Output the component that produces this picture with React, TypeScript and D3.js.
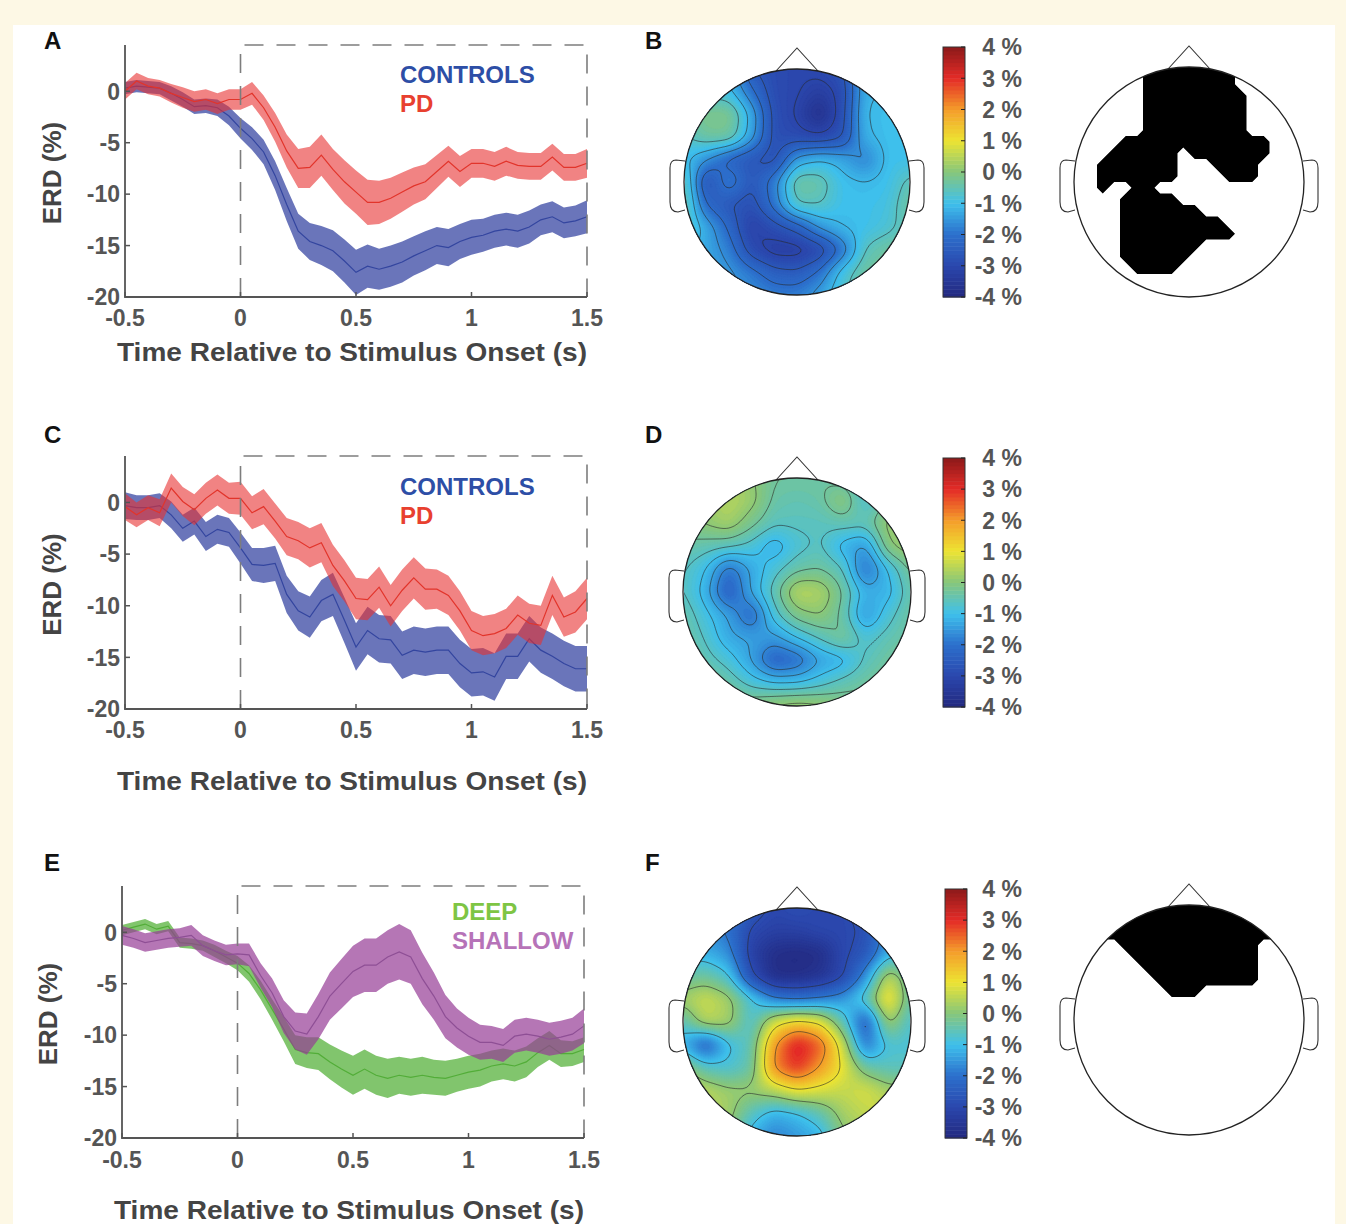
import { useMemo } from 'react';
import * as d3 from 'd3';

const FONT = '"Liberation Sans", Arial, Helvetica, sans-serif';

// time base of every ERD trace (s)
const times = [-0.5, -0.45, -0.4, -0.35, -0.3, -0.25, -0.2, -0.15, -0.1, -0.05, 0, 0.05, 0.1, 0.15, 0.2, 0.25, 0.3, 0.35, 0.4, 0.45, 0.5, 0.55, 0.6, 0.65, 0.7, 0.75, 0.8, 0.85, 0.9, 0.95, 1, 1.05, 1.1, 1.15, 1.2, 1.25, 1.3, 1.35, 1.4, 1.45, 1.5];
const xTicks = [-0.5, 0, 0.5, 1, 1.5];
const yTicks = [0, -5, -10, -15, -20];

// panel A
const ctrlA = [0.3, 0.5, 0.4, 0.3, -0.2, -0.8, -1.5, -1.4, -1.6, -2.4, -3.6, -4.6, -5.9, -8.2, -11.0, -13.6, -14.6, -15.0, -15.5, -16.5, -17.6, -17.0, -17.3, -17.0, -16.6, -16.0, -15.5, -15.0, -15.2, -14.6, -14.2, -14.0, -13.6, -13.4, -13.6, -13.2, -12.5, -12.2, -12.8, -12.6, -12.2];
const ctrlAErr = [0.6, 0.6, 0.6, 0.6, 0.7, 0.7, 0.7, 0.7, 0.8, 0.9, 1.0, 1.1, 1.2, 1.4, 1.6, 1.7, 1.8, 1.9, 2.0, 2.1, 2.2, 2.1, 2.0, 2.0, 2.0, 1.9, 1.9, 1.8, 1.8, 1.7, 1.7, 1.6, 1.6, 1.6, 1.6, 1.6, 1.5, 1.5, 1.5, 1.5, 1.6];
const pdA = [0, 1.0, 0.5, 0.3, -0.2, -0.6, -1.0, -0.8, -1.2, -0.8, -0.8, -0.2, -1.6, -3.5, -5.8, -7.5, -7.4, -6.2, -7.6, -8.8, -9.8, -10.8, -10.8, -10.4, -9.8, -9.2, -8.8, -7.8, -6.8, -7.8, -7.0, -7.0, -7.3, -6.8, -7.2, -7.3, -7.3, -6.4, -7.4, -7.4, -7.0];
const pdAErr = [0.8, 0.8, 0.8, 0.8, 0.9, 1.0, 1.0, 1.0, 1.0, 1.0, 1.0, 1.1, 1.2, 1.4, 1.6, 1.9, 2.0, 2.0, 2.0, 2.1, 2.1, 2.2, 2.1, 2.0, 1.9, 1.8, 1.7, 1.6, 1.5, 1.5, 1.4, 1.4, 1.4, 1.4, 1.3, 1.3, 1.3, 1.3, 1.3, 1.3, 1.4];

// panel C
const ctrlC = [-0.3, -0.5, -0.5, -0.3, -1.2, -2.5, -1.8, -3.3, -2.6, -2.9, -4.4, -6.0, -6.1, -5.9, -8.9, -10.5, -11.1, -9.5, -8.9, -11.4, -14.0, -12.4, -13.2, -13.3, -14.8, -14.3, -14.5, -14.3, -14.3, -15.6, -16.5, -16.4, -16.9, -14.9, -14.9, -13.2, -14.3, -14.9, -15.6, -16.1, -16.1];
const ctrlCErr = [1.3, 1.2, 1.2, 1.2, 1.3, 1.3, 1.3, 1.4, 1.4, 1.4, 1.5, 1.6, 1.7, 1.7, 1.8, 1.9, 2.0, 2.0, 2.1, 2.2, 2.3, 2.3, 2.3, 2.3, 2.3, 2.3, 2.3, 2.3, 2.3, 2.3, 2.3, 2.3, 2.3, 2.2, 2.2, 2.2, 2.2, 2.2, 2.2, 2.2, 2.2];
const pdC = [-0.4, -1.2, -0.5, -1.0, 1.4, 0.1, -0.7, 0.4, 1.2, 0.4, 0.4, -1.0, -0.4, -1.8, -3.3, -3.7, -4.4, -3.9, -6.1, -7.6, -9.3, -9.4, -8.2, -10.0, -8.5, -7.3, -8.4, -8.4, -9.0, -10.5, -12.4, -12.9, -12.7, -12.2, -10.9, -11.7, -11.9, -9.0, -11.1, -10.6, -9.3];
const pdCErr = [1.3, 1.2, 1.2, 1.3, 1.4, 1.4, 1.5, 1.5, 1.5, 1.5, 1.6, 1.6, 1.7, 1.7, 1.8, 1.8, 1.9, 1.9, 2.0, 2.0, 2.0, 2.0, 2.0, 2.0, 2.0, 2.0, 2.0, 1.9, 1.9, 1.9, 1.9, 1.9, 1.9, 1.9, 1.9, 1.9, 1.9, 1.9, 1.9, 2.0, 2.0];

// panel E
const deepE = [0.2, 0.5, 0.8, 0.3, 0.6, -1.0, -1.1, -1.3, -1.8, -2.4, -3.0, -4.0, -5.6, -7.5, -9.4, -11.4, -11.7, -11.8, -12.6, -13.3, -13.9, -13.3, -13.9, -14.2, -13.9, -14.1, -13.9, -14.1, -14.2, -13.9, -13.6, -13.4, -13.0, -12.8, -13.0, -12.6, -11.7, -11.0, -11.8, -11.8, -11.4];
const deepEErr = [0.5, 0.5, 0.5, 0.5, 0.5, 0.5, 0.5, 0.5, 0.6, 0.6, 0.7, 0.8, 0.9, 1.0, 1.2, 1.4, 1.5, 1.6, 1.7, 1.8, 1.9, 1.9, 1.9, 1.9, 1.8, 1.8, 1.8, 1.7, 1.7, 1.6, 1.6, 1.6, 1.5, 1.5, 1.5, 1.5, 1.4, 1.4, 1.3, 1.2, 1.2];
const shallowE = [-0.3, -0.6, -1.0, -0.8, -0.6, -0.5, -0.3, -1.3, -1.8, -2.2, -2.1, -2.2, -4.2, -5.9, -8.2, -9.6, -9.9, -8.2, -6.2, -5.0, -3.8, -3.2, -3.2, -2.4, -1.9, -2.4, -4.5, -6.2, -8.2, -9.3, -10.1, -10.7, -10.7, -11.0, -10.1, -9.9, -10.1, -10.4, -10.2, -9.9, -9.1];
const shallowEErr = [0.9, 0.9, 0.9, 0.9, 0.9, 0.9, 1.0, 1.0, 1.0, 1.0, 1.0, 1.1, 1.2, 1.4, 1.6, 1.8, 2.0, 2.2, 2.3, 2.4, 2.5, 2.6, 2.6, 2.6, 2.7, 2.6, 2.5, 2.3, 2.1, 1.9, 1.8, 1.7, 1.6, 1.6, 1.6, 1.6, 1.6, 1.6, 1.6, 1.6, 1.7];

// colour bar
const cbarValues = [4, 3, 2, 1, 0, -1, -2, -3, -4];
const cbarLabels = ['4 %', '3 %', '2 %', '1 %', '0 %', '-1 %', '-2 %', '-3 %', '-4 %'];
const jetDomain = [-4, -3, -2, -1, 0, 1, 2, 3, 4];
const jetColors = ['#22287f', '#2b47ad', '#2c6fcc', '#3ec0ec', '#86c67c', '#ece433', '#f49d2a', '#e42b27', '#8c1a1a'];

// scalp maps (%), rows front->back, columns left->right, over the head's bounding square
const topoB = [
  [-1.2, -1.2, -1.2, -2.6, -2.9, -3.0, -2.9, -2.7, -1.2, -1.1, -1.1],
  [-1.0, -0.9, -1.0, -2.0, -2.9, -3.0, -3.3, -2.9, -1.2, -1.1, -1.1],
  [-0.5, -0.1, -0.1, -1.3, -2.8, -3.1, -3.8, -2.8, -1.1, -1.0, -1.0],
  [-0.7, -0.3, -0.3, -1.4, -2.8, -2.9, -3.0, -2.7, -1.2, -1.0, -1.0],
  [-1.0, -1.6, -2.3, -2.6, -2.8, -1.4, -1.1, -1.3, -1.8, -1.0, -1.0],
  [-0.4, -2.8, -1.7, -2.6, -1.8, -0.3, -0.4, -1.0, -1.1, -1.0, -0.5],
  [-0.3, -2.2, -2.6, -2.8, -1.9, -0.6, -0.6, -1.0, -1.0, -0.9, -0.3],
  [-0.5, -1.3, -2.2, -3.2, -2.8, -2.4, -1.5, -1.1, -1.0, -0.8, -0.4],
  [-1.0, -1.3, -1.8, -2.9, -3.3, -3.3, -3.0, -2.0, -0.6, -0.3, -0.3],
  [-1.2, -1.3, -1.5, -1.9, -2.4, -2.5, -2.0, -0.9, -0.3, -0.3, -0.3],
  [-1.3, -1.3, -1.5, -1.6, -1.8, -1.8, -1.4, -0.7, -0.3, -0.3, -0.3],
];
const topoD = [
  [0, 0, 0.3, 0.1, -0.3, -0.3, -0.3, -0.5, -0.8, -0.3, 0],
  [0, 0.2, 0.5, 0.2, -0.4, -0.5, -0.4, 0.1, -0.8, -0.3, 0.2],
  [-0.1, 0.1, 0.3, -0.2, -0.6, -0.6, -0.6, -0.5, -0.5, 0.2, 0.4],
  [-0.4, -0.5, -0.6, -0.8, -1.3, -0.8, -0.6, -1.2, -1.5, 0, 0.3],
  [-0.6, -1.0, -2.0, -1.3, -0.8, -0.4, -0.3, -0.6, -2.0, -1.0, -0.2],
  [-0.6, -1.2, -2.4, -1.3, -0.5, 0.5, 0.4, -0.3, -1.2, -1.2, -0.4],
  [-0.4, -0.9, -1.4, -2.2, -0.8, -0.1, 0.1, -0.4, -1.5, -0.8, -0.3],
  [-0.3, -0.7, -1.3, -1.4, -1.5, -1.0, -0.6, -0.2, -0.8, -0.5, -0.3],
  [-0.2, -0.5, -0.8, -1.4, -2.3, -2.1, -1.4, -1.2, -0.6, -0.3, -0.2],
  [-0.1, -0.2, -0.4, -0.8, -1.0, -1.0, -0.8, -0.5, -0.3, -0.2, -0.2],
  [0, 0, 0, 0, 0.2, 0.3, 0.2, 0, -0.2, -0.2, -0.2],
];
const topoF = [
  [-1.5, -1.5, -1.8, -2.5, -3.0, -2.8, -3.0, -3.0, -2.5, -1.5, -1.5],
  [-1.5, -1.6, -2.0, -3.0, -3.2, -3.2, -3.0, -3.0, -2.8, -1.5, -1.2],
  [-1.2, -1.2, -1.6, -3.2, -3.8, -3.9, -3.8, -3.0, -2.6, -1.2, -1.0],
  [-0.4, -0.3, -0.8, -2.8, -3.8, -3.8, -3.6, -3.0, -1.6, 0.6, -0.5],
  [0.3, 0.7, 0.3, -0.8, -1.8, -2.0, -1.8, -1.5, -0.6, 1.3, -0.5],
  [-0.6, 0.5, 0.3, -0.8, 0.8, 1.3, 1.0, -0.5, -2.5, 0.3, -0.8],
  [-1.2, -2.5, -1.0, -0.5, 2.0, 3.3, 2.6, 0.7, -2.0, -0.8, -0.8],
  [0.2, -0.6, -0.8, -0.4, 2.2, 3.0, 2.0, 1.0, -0.3, -0.6, -0.6],
  [0.8, 0.5, 0.2, 0.2, 0.5, 1.0, 0.8, 0.6, 0.8, 0.3, 0.3],
  [0.5, 0.5, 0.3, -0.6, -1.2, -1.0, -0.5, 0.3, 0.6, 0.8, 0.6],
  [0.3, 0.3, 0, -1.2, -1.8, -1.5, -1.2, 0, 0.3, 0.5, 0.5],
];

// significance masks (# = significant), 20 x 20 over the head's bounding square
const maskB = [
  '......########......',
  '......########......',
  '......#########.....',
  '......#########.....',
  '......#########.....',
  '......#########.....',
  '....#############...',
  '...######.#######...',
  '..#######...####....',
  '..#######....###....',
  '..#..##.............',
  '....#####...........',
  '....#######.........',
  '....#########.......',
  '....##########......',
  '....#######.........',
  '....######..........',
  '.....####...........',
  '....................',
  '....................',
];
const maskF = [
  '####################',
  '####################',
  '####################',
  '....############....',
  '.....###########....',
  '......##########....',
  '.......#########....',
  '........###.........',
  '....................',
  '....................',
  '....................',
  '....................',
  '....................',
  '....................',
  '....................',
  '....................',
  '....................',
  '....................',
  '....................',
  '....................',
];

const jet = d3.scaleLinear<string>().domain(jetDomain).range(jetColors).clamp(true);

interface Trace { mean: number[]; err: number[]; fill: string; opacity: number; line: string }
interface LegendItem { text: string; color: string }

interface ErdProps {
  letter: string; letterY: number;
  x0: number; x1: number; yTop: number; yBot: number;
  tickY: number; labelY: number; ylabX: number;
  traces: Trace[];
  legend: LegendItem[]; legendX: number; legendY: number;
}

function ErdPanel({ letter, letterY, x0, x1, yTop, yBot, tickY, labelY, ylabX, traces, legend, legendX, legendY }: ErdProps) {
  const x = d3.scaleLinear().domain([-0.5, 1.5]).range([x0, x1]);
  const y = d3.scaleLinear().domain([-20, 4.5]).range([yBot, yTop]);
  const ink = '#555';
  return (
    <g>
      <text x={44} y={letterY} fontFamily={FONT} fontWeight="bold" fontSize={24} fill="#111">{letter}</text>
      {traces.map((t, k) => {
        const band = d3.area<number>()
          .x((_, i) => x(times[i]))
          .y0((d, i) => y(d - t.err[i]))
          .y1((d, i) => y(d + t.err[i]));
        const line = d3.line<number>().x((_, i) => x(times[i])).y(d => y(d));
        return (
          <g key={k}>
            <path d={band(t.mean) ?? ''} fill={t.fill} fillOpacity={t.opacity} />
            <path d={line(t.mean) ?? ''} fill="none" stroke={t.line} strokeWidth={1.2} />
          </g>
        );
      })}
      <path d={`M${x(0)},${yBot} V${yTop} H${x(1.5)} V${yBot}`} fill="none" stroke="#7d7d7d"
        strokeWidth={1.6} strokeDasharray="19 13" />
      <path d={`M${x0},${yTop} V${yBot} H${x1}`} fill="none" stroke={ink} strokeWidth={1.8} />
      {yTicks.map(v => (
        <g key={v}>
          <line x1={x0} x2={x0 + 5} y1={y(v)} y2={y(v)} stroke={ink} strokeWidth={1.5} />
          <text x={x0 - 5} y={y(v)} dy="0.36em" textAnchor="end" fontFamily={FONT} fontWeight="bold"
            fontSize={23} fill={ink}>{v}</text>
        </g>
      ))}
      {xTicks.map(v => (
        <g key={v}>
          <line x1={x(v)} x2={x(v)} y1={yBot} y2={yBot - 5} stroke={ink} strokeWidth={1.5} />
          <text x={x(v)} y={tickY} textAnchor="middle" fontFamily={FONT} fontWeight="bold"
            fontSize={23} fill={ink}>{v}</text>
        </g>
      ))}
      <text x={(x0 + x1) / 2 - 4} y={labelY} textAnchor="middle" fontFamily={FONT} fontWeight="bold"
        fontSize={26} fill="#444" textLength={470} lengthAdjust="spacingAndGlyphs">
        Time Relative to Stimulus Onset (s)
      </text>
      <text transform={`translate(${ylabX},${(yTop + yBot) / 2 + 2}) rotate(-90)`} dy="0.36em"
        textAnchor="middle" fontFamily={FONT} fontWeight="bold" fontSize={26} fill="#444">ERD (%)</text>
      {legend.map((l, i) => (
        <text key={l.text} x={legendX} y={legendY + i * 29} fontFamily={FONT} fontWeight="bold"
          fontSize={24} fill={l.color}>{l.text}</text>
      ))}
    </g>
  );
}

function upsample(grid: number[][], n: number): number[] {
  const R = grid.length, C = grid[0].length;
  const out: number[] = new Array(n * n);
  for (let j = 0; j < n; j++) {
    const gy = (j * (R - 1)) / (n - 1);
    const j0 = Math.min(R - 2, Math.floor(gy));
    const fy = gy - j0;
    for (let i = 0; i < n; i++) {
      const gx = (i * (C - 1)) / (n - 1);
      const i0 = Math.min(C - 2, Math.floor(gx));
      const fx = gx - i0;
      const a = grid[j0][i0], b = grid[j0][i0 + 1], c = grid[j0 + 1][i0], d = grid[j0 + 1][i0 + 1];
      out[j * n + i] = (a * (1 - fx) + b * fx) * (1 - fy) + (c * (1 - fx) + d * fx) * fy;
    }
  }
  return out;
}

function HeadOutline({ cx, cy, r }: { cx: number; cy: number; r: number }) {
  const ear = (s: number) => {
    const e = cx + s * r;
    return `M${e - s * 1},${cy - 21} L${e + s * 8},${cy - 22} Q${e + s * 14},${cy - 22} ${e + s * 14},${cy - 14}
      L${e + s * 14},${cy + 20} Q${e + s * 14},${cy + 30} ${e + s * 6},${cy + 30} L${e - s * 1},${cy + 28}`;
  };
  return (
    <g fill="none" stroke="#333" strokeWidth={1.1}>
      <path d={`M${cx - 21},${cy - r + 2} L${cx},${cy - r - 21} L${cx + 21},${cy - r + 2}`} />
      <path d={ear(-1)} fill="#fff" />
      <path d={ear(1)} fill="#fff" />
      <circle cx={cx} cy={cy} r={r} stroke="#222" strokeWidth={1.3} />
    </g>
  );
}

interface TopoProps { id: string; cx: number; cy: number; r: number; grid: number[][]; bx: number; by0: number; by1: number }

function TopoMap({ id, cx, cy, r, grid, bx, by0, by1 }: TopoProps) {
  const n = 101;
  const { fills, lines, base } = useMemo(() => {
    const data = upsample(grid, n);
    if ((d3 as any).blur2) (d3 as any).blur2({ data, width: n, height: n }, 2);
    const s = (2 * r) / (n - 1);
    const path = d3.geoPath(d3.geoIdentity().scale(s).translate([cx - r - 0.5 * s, cy - r - 0.5 * s]));
    const gen = d3.contours().size([n, n]);
    const [mn, mx] = d3.extent(data) as [number, number];
    const step = 0.08;
    const fills = d3.range(-4.4, 4.4, step)
      .filter(t => t > mn)
      .map(t => ({ d: path(gen.contour(data, t)) ?? '', c: jet(t + step / 2) }));
    const levels = d3.range(1, 7).map(k => mn + (k * (mx - mn)) / 7);
    const lines = levels.map(t => path(gen.contour(data, t)) ?? '');
    return { fills, lines, base: jet(mn) };
  }, [grid, cx, cy, r]);

  const cb = d3.scaleLinear().domain([-4, 4]).range([by1, by0]);
  const bands = d3.range(64);
  return (
    <g>
      <clipPath id={id}><circle cx={cx} cy={cy} r={r} /></clipPath>
      <g clipPath={`url(#${id})`}>
        <circle cx={cx} cy={cy} r={r} fill={base} />
        {fills.map((f, i) => <path key={i} d={f.d} fill={f.c} stroke={f.c} strokeWidth={0.4} />)}
        {lines.map((d, i) => <path key={i} d={d} fill="none" stroke="#2a2a2a" strokeOpacity={0.75} strokeWidth={0.8} />)}
      </g>
      <HeadOutline cx={cx} cy={cy} r={r} />
      {bands.map(k => {
        const v0 = -4 + (k * 8) / 64, v1 = -4 + ((k + 1) * 8) / 64;
        return <rect key={k} x={bx} width={22} y={cb(v1)} height={cb(v0) - cb(v1) + 0.5} fill={jet((v0 + v1) / 2)} />;
      })}
      <rect x={bx} y={by0} width={22} height={by1 - by0} fill="none" stroke="#333" strokeWidth={1} />
      {cbarValues.map((v, i) => (
        <g key={v}>
          <line x1={bx + 22} x2={bx + 18} y1={cb(v)} y2={cb(v)} stroke="#222" strokeWidth={1} />
          <text x={1022} y={cb(v)} dy="0.36em" textAnchor="end" fontFamily={FONT} fontWeight="bold"
            fontSize={23} fill="#555">{cbarLabels[i]}</text>
        </g>
      ))}
    </g>
  );
}

function MaskMap({ id, cx, cy, r, mask }: { id: string; cx: number; cy: number; r: number; mask: string[] }) {
  const d = useMemo(() => {
    const rows = mask.length, cols = mask[0].length;
    const data = mask.flatMap(row => [...row].map(ch => (ch === '#' ? 1 : 0)));
    const s = (2 * r) / cols;
    const path = d3.geoPath(d3.geoIdentity().scale(s).translate([cx - r, cy - r]));
    return path(d3.contours().size([cols, rows]).contour(data, 0.5)) ?? '';
  }, [mask, cx, cy, r]);
  return (
    <g>
      <clipPath id={id}><circle cx={cx} cy={cy} r={r} /></clipPath>
      <circle cx={cx} cy={cy} r={r} fill="#fff" />
      <path d={d} fill="#000" clipPath={`url(#${id})`} />
      <HeadOutline cx={cx} cy={cy} r={r} />
    </g>
  );
}

const blue = { fill: 'rgb(48,64,160)', opacity: 0.72, line: '#33459f' };
const red = { fill: 'rgb(232,48,48)', opacity: 0.6, line: '#e2342b' };
const green = { fill: 'rgb(70,170,40)', opacity: 0.68, line: '#52ad38' };
const purple = { fill: 'rgb(150,60,150)', opacity: 0.7, line: '#8e4f95' };

export default function App() {
  return (
    <div style={{ position: 'absolute', left: 0, top: 0 }}>
      <svg width={1346} height={1224} style={{ display: 'block' }}>
        <rect width={1346} height={1224} fill="#fdf8e5" />
        <rect x={13} y={25} width={1322} height={1210} fill="#fff" />

        <ErdPanel letter="A" letterY={49} x0={125} x1={587} yTop={45} yBot={297} tickY={326} labelY={361} ylabX={52}
          traces={[{ mean: ctrlA, err: ctrlAErr, ...blue }, { mean: pdA, err: pdAErr, ...red }]}
          legend={[{ text: 'CONTROLS', color: '#2d4ea6' }, { text: 'PD', color: '#e8402f' }]}
          legendX={400} legendY={83} />
        <ErdPanel letter="C" letterY={443} x0={125} x1={587} yTop={456} yBot={709} tickY={738} labelY={790} ylabX={52}
          traces={[{ mean: ctrlC, err: ctrlCErr, ...blue }, { mean: pdC, err: pdCErr, ...red }]}
          legend={[{ text: 'CONTROLS', color: '#2d4ea6' }, { text: 'PD', color: '#e8402f' }]}
          legendX={400} legendY={495} />
        <ErdPanel letter="E" letterY={871} x0={122} x1={584} yTop={886} yBot={1138} tickY={1168} labelY={1219} ylabX={48}
          traces={[{ mean: deepE, err: deepEErr, ...green }, { mean: shallowE, err: shallowEErr, ...purple }]}
          legend={[{ text: 'DEEP', color: '#7ec544' }, { text: 'SHALLOW', color: '#b673b8' }]}
          legendX={452} legendY={920} />

        <text x={645} y={49} fontFamily={FONT} fontWeight="bold" fontSize={24} fill="#111">B</text>
        <text x={645} y={443} fontFamily={FONT} fontWeight="bold" fontSize={24} fill="#111">D</text>
        <text x={645} y={871} fontFamily={FONT} fontWeight="bold" fontSize={24} fill="#111">F</text>

        <TopoMap id="clipB" cx={797} cy={182} r={113} grid={topoB} bx={943} by0={47} by1={297} />
        <TopoMap id="clipD" cx={797} cy={592} r={114} grid={topoD} bx={943} by0={458} by1={707} />
        <TopoMap id="clipF" cx={797} cy={1022} r={114} grid={topoF} bx={945} by0={889} by1={1138} />

        <MaskMap id="maskB" cx={1189} cy={182} r={115} mask={maskB} />
        <MaskMap id="maskF" cx={1189} cy={1020} r={115} mask={maskF} />
      </svg>
    </div>
  );
}
